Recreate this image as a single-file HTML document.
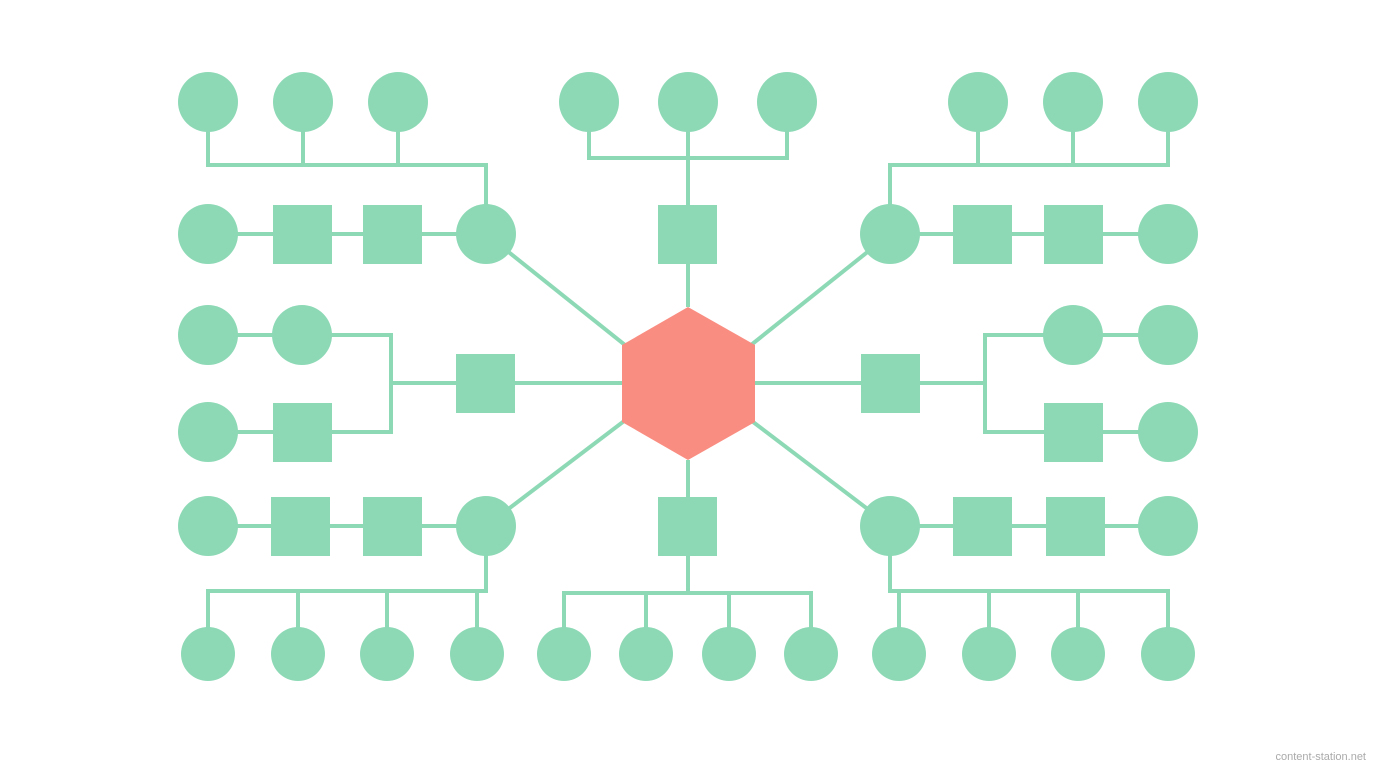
<!DOCTYPE html>
<html><head><style>html,body{margin:0;padding:0;background:#fff;width:1376px;height:768px;overflow:hidden}</style></head>
<body>
<svg width="1376" height="768" xmlns="http://www.w3.org/2000/svg">
<g stroke="#8dd9b6" stroke-width="4" fill="none">
<!-- top-left -->
<path d="M208 102V165H486V234M303 102V165M398 102V165"/>
<path d="M208 234H486"/>
<!-- top center -->
<path d="M589 102V158H787V102M688 102V307"/>
<!-- top right -->
<path d="M1168 102V165H890V234M978 102V165M1073 102V165"/>
<path d="M890 234H1168"/>
<!-- middle left -->
<path d="M208 335H391V432H208M391 383H622"/>
<!-- middle right -->
<path d="M1168 335H985V432H1168M985 383H755"/>
<!-- bottom left -->
<path d="M208 526H486V591H208V654M298 591V654M387 591V654M477 591V654"/>
<!-- bottom center -->
<path d="M688 460V593M564 654V593H811V654M646 593V654M729 593V654"/>
<!-- bottom right -->
<path d="M890 526H1168M890 526V591H1168V654M899 591V654M989 591V654M1078 591V654"/>
<!-- diagonals -->
<path d="M486 234L640 357M890 234L736 357M486 526L640 409M890 526L736 409"/>
</g>
<g fill="#8dd9b6">
<circle cx="208" cy="102" r="30"/><circle cx="303" cy="102" r="30"/><circle cx="398" cy="102" r="30"/>
<circle cx="589" cy="102" r="30"/><circle cx="688" cy="102" r="30"/><circle cx="787" cy="102" r="30"/>
<circle cx="978" cy="102" r="30"/><circle cx="1073" cy="102" r="30"/><circle cx="1168" cy="102" r="30"/>
<circle cx="208" cy="234" r="30"/><rect x="273" y="205" width="59" height="59"/><rect x="363" y="205" width="59" height="59"/><circle cx="486" cy="234" r="30"/>
<rect x="658" y="205" width="59" height="59"/>
<circle cx="890" cy="234" r="30"/><rect x="953" y="205" width="59" height="59"/><rect x="1044" y="205" width="59" height="59"/><circle cx="1168" cy="234" r="30"/>
<circle cx="208" cy="335" r="30"/><circle cx="302" cy="335" r="30"/>
<circle cx="208" cy="432" r="30"/><rect x="273" y="403" width="59" height="59"/>
<rect x="456" y="354" width="59" height="59"/>
<rect x="861" y="354" width="59" height="59"/>
<circle cx="1073" cy="335" r="30"/><circle cx="1168" cy="335" r="30"/>
<rect x="1044" y="403" width="59" height="59"/><circle cx="1168" cy="432" r="30"/>
<circle cx="208" cy="526" r="30"/><rect x="271" y="497" width="59" height="59"/><rect x="363" y="497" width="59" height="59"/><circle cx="486" cy="526" r="30"/>
<rect x="658" y="497" width="59" height="59"/>
<circle cx="890" cy="526" r="30"/><rect x="953" y="497" width="59" height="59"/><rect x="1046" y="497" width="59" height="59"/><circle cx="1168" cy="526" r="30"/>
<circle cx="208" cy="654" r="27"/><circle cx="298" cy="654" r="27"/><circle cx="387" cy="654" r="27"/><circle cx="477" cy="654" r="27"/>
<circle cx="564" cy="654" r="27"/><circle cx="646" cy="654" r="27"/><circle cx="729" cy="654" r="27"/><circle cx="811" cy="654" r="27"/>
<circle cx="899" cy="654" r="27"/><circle cx="989" cy="654" r="27"/><circle cx="1078" cy="654" r="27"/><circle cx="1168" cy="654" r="27"/>
</g>
<polygon points="688,307 755,345 755,422 688,460 622,422 622,345" fill="#fa8d81"/>
<text x="1366" y="760" text-anchor="end" font-family="Liberation Sans, sans-serif" font-size="11" fill="#aaa">content-station.net</text>
</svg>
</body></html>
